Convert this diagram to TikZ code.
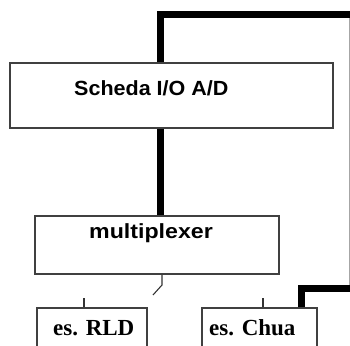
\documentclass[tikz,border=0pt]{standalone}
\usepackage{fontspec}
\setmainfont{Liberation Serif}
\setsansfont{Liberation Sans}
\newfontfamily\headsans[FakeStretch=1.05]{Liberation Sans}
\newfontfamily\muxsans[FakeStretch=1.13]{Liberation Sans}
\begin{document}
\begin{tikzpicture}[x=1pt,y=-1pt,
  box/.style={draw=black!75, line width=1.6pt, fill=white, inner sep=0pt},
  bus/.style={draw=black, line width=7pt},
  wire/.style={draw=black!80, line width=1.1pt},
  rail/.style={draw=black!35, line width=1pt},
  headtxt/.style={font=\headsans\bfseries\fontsize{20.5}{20.5}\selectfont, inner sep=0pt, anchor=base west},
  muxtxt/.style={font=\muxsans\bfseries\fontsize{20.5}{20.5}\selectfont, inner sep=0pt, anchor=base west},
  caselabel/.style={font=\rmfamily\bfseries\fontsize{23}{23}\selectfont, inner sep=0pt, anchor=base west}]
\useasboundingbox (0,0) rectangle (350,345);
\clip (0,0) rectangle (350,345);

% blocks
\node[box, minimum width=323pt, minimum height=65pt] (scheda) at (171.5,95.5) {};
\node[box, minimum width=244pt, minimum height=58pt] (mux) at (157,245) {};
\node[box, minimum width=110pt, minimum height=52pt] (rld) at (92,334) {};
\node[box, minimum width=115pt, minimum height=52pt] (chua) at (259.5,334) {};

% labels
\node[headtxt] (schedalbl) at (74,95) {Scheda I/O A/D};
\node[muxtxt] (muxlbl) at (89,238) {multiplexer};
\node[caselabel] (rldlbl) at (53,335) {es. RLD};
\node[caselabel] (chualbl) at (209,335) {es. Chua};

% reference points
\coordinate (busx) at (160,0);
\coordinate (tr) at (356,15);
\coordinate (br) at (356,288);
\coordinate (railtop) at (349,15);
\coordinate (railbot) at (349,288);
\coordinate (chuabus) at (301,0);
\coordinate (sw) at (162,285);
\coordinate (swend) at (153,295);
\coordinate (tickrld) at (84,298);
\coordinate (tickchua) at (263,298);

% side rail joining the two buses
\draw[rail] (railtop) -- (railbot);

% buses
\draw[bus] (scheda.north -| busx) |- (tr);
\draw[bus] (scheda.south -| busx) -- (mux.north -| busx);
\draw[bus] (chua.north -| chuabus) |- (br);

% multiplexer switch
\draw[wire] (mux.south -| sw) -- (sw) -- (swend);

% input ticks
\draw[wire] (tickrld) -- (tickrld |- rld.north);
\draw[wire] (tickchua) -- (tickchua |- chua.north);
\end{tikzpicture}
\end{document}
